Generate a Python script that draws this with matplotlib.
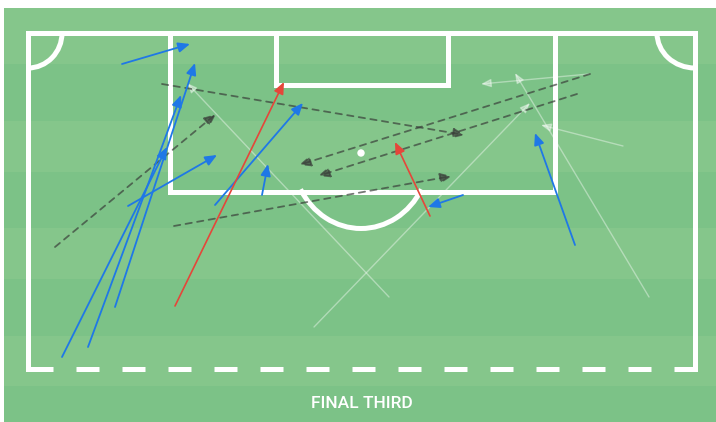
import matplotlib.pyplot as plt
from matplotlib.patches import Rectangle, Arc, Circle

# pass coordinates in pixel units (x right, y down)
blue_x0 = [122, 62, 88, 115, 128, 215, 262, 463, 575]
blue_y0 = [64, 357, 347, 307, 206, 205, 195, 195, 245]
blue_x1 = [190, 167, 181, 195, 217, 303, 268, 428, 535]
blue_y1 = [44, 147, 95, 63, 155, 103, 164, 207, 133]

red_x0 = [175, 430]
red_y0 = [306, 216]
red_x1 = [284, 395]
red_y1 = [82, 142]

dash_x0 = [162, 55, 590, 577, 174]
dash_y0 = [84, 247, 74, 94, 226]
dash_x1 = [465, 216, 299, 318, 452]
dash_y1 = [135, 114, 165, 176, 176]

faint_x0 = [389, 314, 649, 589, 623]
faint_y0 = [297, 327, 297, 74, 146]
faint_x1 = [187, 530, 515, 481, 541]
faint_y1 = [83, 103, 73, 84, 125]

stripe_edges = [8, 64, 121, 172, 228, 279, 336, 386, 422]
stripe_colors = ['#85c68b', '#7cc287']

caption = 'FINAL THIRD'

W, H = 716, 422
fig = plt.figure(figsize=(W / 100, H / 100), dpi=100)
ax = fig.add_axes([0, 0, 1, 1])
ax.set_xlim(0, W)
ax.set_ylim(H, 0)
ax.axis('off')

# grass stripes
for i in range(len(stripe_edges) - 1):
    y0, y1 = stripe_edges[i], stripe_edges[i + 1]
    ax.add_patch(Rectangle((4, y0), W - 4, y1 - y0, color=stripe_colors[i % 2], lw=0, zorder=0))

##### pitch markings #####
line_kw = dict(color='white', lw=3.6, solid_capstyle='projecting', zorder=1)
left, right, top, bottom = 28, 695, 33, 369
ax.plot([left, left, right, right], [bottom, top, top, bottom], solid_joinstyle='miter', **line_kw)
# dashed halfway-side edge: ~23px dashes (dash lengths scale with lw)
ax.plot([30, right], [bottom, bottom], color='white', lw=3.6, dashes=(4.6, 4.6),
        dash_capstyle='butt', zorder=1)
ax.plot([left, left + 3], [bottom, bottom], **line_kw)

# penalty area and goal area
ax.plot([170, 170, 555, 555], [top, 192, 192, top], solid_joinstyle='miter', **line_kw)
ax.plot([276, 276, 448, 448], [top, 85, 85, top], solid_joinstyle='miter', **line_kw)

# penalty spot and D
ax.add_patch(Circle((361, 153), 3, color='white', zorder=1))
ax.add_patch(Arc((361, 153), 138, 151, theta1=31, theta2=149, color='white', lw=3.6, zorder=1))

# corner arcs
ax.add_patch(Arc((left, top), 68, 70, theta1=0, theta2=90, color='white', lw=3.6, zorder=1))
ax.add_patch(Arc((right, top), 76, 70, theta1=90, theta2=180, color='white', lw=3.6, zorder=1))


##### passes #####
def draw_arrows(x0, y0, x1, y1, color, lw, alpha=1.0, ls='-', hl=0.7, hw=0.3, z=3):
    for a, b, c, d in zip(x0, y0, x1, y1):
        ax.annotate('', xy=(c, d), xytext=(a, b),
                    arrowprops=dict(arrowstyle=f'-|>,head_length={hl},head_width={hw}',
                                    color=color, lw=lw, alpha=alpha, linestyle=ls,
                                    shrinkA=0, shrinkB=0, mutation_scale=10),
                    zorder=z)


draw_arrows(faint_x0, faint_y0, faint_x1, faint_y1, 'white', 1.0, alpha=0.4, hl=0.6, hw=0.25, z=2)
draw_arrows(dash_x0, dash_y0, dash_x1, dash_y1, '#3a3f3a', 1.3, alpha=0.7, ls=(0, (3.5, 3.0)), z=3)
draw_arrows(blue_x0, blue_y0, blue_x1, blue_y1, '#1f78e6', 1.3, z=4)
draw_arrows(red_x0, red_y0, red_x1, red_y1, '#e5463a', 1.2, z=4)

ax.text(362, 404, caption, color='white', fontsize=12.5, family='Roboto', weight='medium',
        ha='center', va='center')

fig.savefig('out.png', dpi=100)
